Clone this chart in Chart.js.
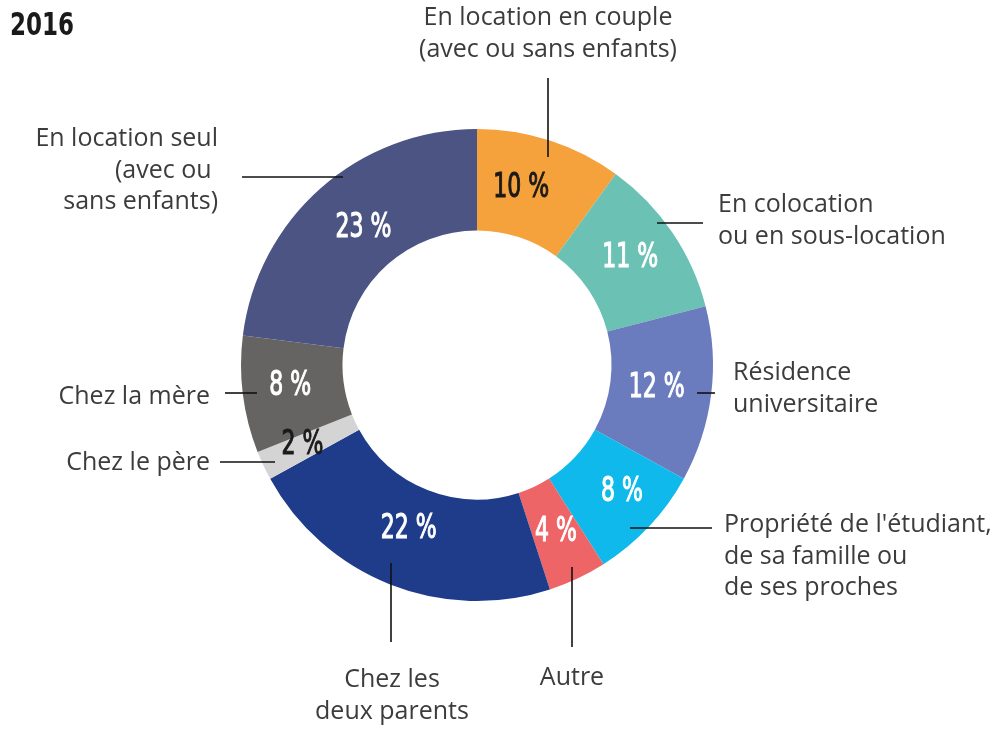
<!DOCTYPE html>
<html>
<head>
<meta charset="utf-8">
<script src="https://cdn.jsdelivr.net/npm/chart.js@4.4.0/dist/chart.umd.min.js"></script>
<style>
  body { margin: 0; background: #fff; }
  #wrap { position: relative; width: 1003px; height: 729px; }
  #year {
    position: absolute; left: 10px; top: 5px;
    font: bold 32px "Liberation Sans Narrow", "DejaVu Sans Condensed", sans-serif;
    color: #1a1a1a; transform: scaleX(0.8); transform-origin: left top;
  }
</style>
</head>
<body>
<div id="wrap">
  <div id="year">2016</div>
  <canvas id="donut" width="1003" height="729"></canvas>
</div>
<script>
const categories = [
    'En location en couple (avec ou sans enfants)',
    'En colocation ou en sous-location',
    'Résidence universitaire',
    "Propriété de l'étudiant, de sa famille ou de ses proches",
    'Autre',
    'Chez les deux parents',
    'Chez le père',
    'Chez la mère',
    'En location seul (avec ou sans enfants)',
];
const shares = [10, 11, 12, 8, 4, 22, 2, 8, 23];
const shareLabels = ['10 %', '11 %', '12 %', '8 %', '4 %', '22 %', '2 %', '8 %', '23 %'];

const sliceColors = ['#f5a13c', '#6cc1b5', '#6a7cbd', '#0fb9eb', '#ee6568', '#1f3c8b', '#d4d4d4', '#656463', '#4c5484'];
const darkText = [true, false, false, false, false, false, true, false, false];
// petits décalages des pourcentages par rapport au centre de la part
const nudge = [[-13, -1], [0, -3], [-4, 0], [10, 0], [0, 0], [0, -8], [-7, 1], [-3, -2], [9, 2]];

// étiquettes extérieures : offsets par rapport au centre du donut
const callouts = [
    { lines: ['En location en couple', '(avec ou sans enfants)'], x: 71, y: -347, align: 'center', seg: [71, -287, 71, -208] },
    { lines: ['En colocation', 'ou en sous-location'], x: 241, y: -160, align: 'left', seg: [180, -142, 226, -142] },
    { lines: ['Résidence', 'universitaire'], x: 256, y: 8, align: 'left', seg: [220, 28, 238, 28] },
    { lines: ["Propriété de l'étudiant,", 'de sa famille ou', 'de ses proches'], x: 247, y: 160, align: 'left', seg: [153, 163, 235, 163] },
    { lines: ['Autre'], x: 95, y: 313, align: 'center', seg: [95, 202, 95, 282] },
    { lines: ['Chez les', 'deux parents'], x: -85, y: 315, align: 'center', seg: [-86, 198, -86, 277] },
    { lines: ['Chez le père'], x: -267, y: 98, align: 'right', seg: [-257, 97, -202, 97] },
    { lines: ['Chez la mère'], x: -267, y: 32, align: 'right', seg: [-252, 28, -220, 28] },
    { lines: ['En location seul', '(avec ou ', 'sans enfants)'], x: -259, y: -226, align: 'right', seg: [-235, -188, -134, -188] },
];

const labelPlugin = {
    id: 'donutLabels',
    afterDatasetsDraw(chart) {
        const ctx = chart.ctx;
        const meta = chart.getDatasetMeta(0);
        const cx = meta.data[0].x;
        const cy = meta.data[0].y;

        ctx.save();
        // traits de rappel
        ctx.strokeStyle = '#111';
        ctx.lineWidth = 1.6;
        callouts.forEach(c => {
            ctx.beginPath();
            ctx.moveTo(cx + c.seg[0], cy + c.seg[1]);
            ctx.lineTo(cx + c.seg[2], cy + c.seg[3]);
            ctx.stroke();
        });

        // pourcentages
        ctx.textAlign = 'center';
        ctx.textBaseline = 'middle';
        meta.data.forEach((arc, i) => {
            const p = arc.tooltipPosition();
            const col = darkText[i] ? '#1a1a1a' : '#ffffff';
            ctx.save();
            ctx.translate(p.x + nudge[i][0], p.y + nudge[i][1]);
            ctx.scale(0.72, 1);
            ctx.font = '34px "Liberation Sans Narrow", "DejaVu Sans Condensed", sans-serif';
            ctx.fillStyle = col;
            ctx.strokeStyle = col;
            ctx.lineWidth = 1.1;
            ctx.fillText(shareLabels[i], 0, 0);
            ctx.strokeText(shareLabels[i], 0, 0);
            ctx.restore();
        });

        // libellés
        ctx.font = '25px "Open Sans", "Noto Sans", sans-serif';
        ctx.fillStyle = '#3c3c3c';
        callouts.forEach(c => {
            ctx.textAlign = c.align;
            c.lines.forEach((t, k) => {
                ctx.fillText(t, cx + c.x, cy + c.y + k * 31.5);
            });
        });
        ctx.restore();
    }
};

new Chart(document.getElementById('donut'), {
    type: 'doughnut',
    data: {
        labels: categories,
        datasets: [{
            data: shares,
            backgroundColor: sliceColors,
            borderWidth: 0,
        }],
    },
    options: {
        responsive: false,
        animation: false,
        cutout: '57%',
        layout: { padding: { left: 241, right: 290, top: 129, bottom: 128 } },
        plugins: {
            legend: { display: false },
            tooltip: { enabled: false },
        },
    },
    plugins: [labelPlugin],
});
</script>
</body>
</html>
